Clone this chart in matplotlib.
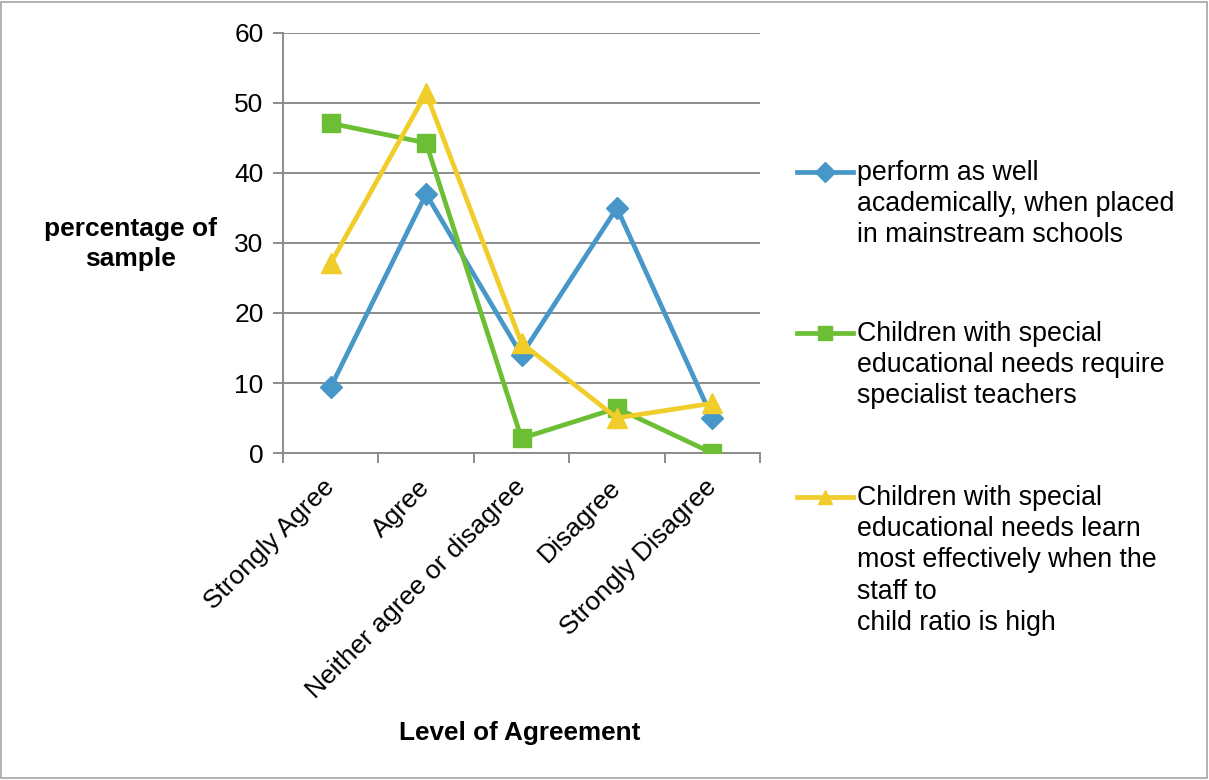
import numpy as np
import matplotlib
matplotlib.use("Agg")
import matplotlib.pyplot as plt
from matplotlib.lines import Line2D
from matplotlib.patches import Rectangle

plt.rcParams['font.family'] = ['Liberation Sans', 'DejaVu Sans']

# ---- data ----
categories = ["Strongly Agree", "Agree", "Neither agree or disagree",
              "Disagree", "Strongly Disagree"]
perform_well = [9.4, 37.0, 14.0, 35.0, 5.0]
need_specialist = [47.1, 44.3, 2.1, 6.4, 0.0]
staff_ratio = [27.1, 51.4, 15.7, 5.0, 7.1]

labels = ["perform as well\nacademically, when placed\nin mainstream schools",
          "Children with special\neducational needs require\nspecialist teachers",
          "Children with special\neducational needs learn\nmost effectively when the\nstaff to\nchild ratio is high"]
colors = ["#4797C9", "#6CBE34", "#F0CD2B"]
markers = ["D", "s", "^"]
msizes = [11, 13, 14]
series = [perform_well, need_specialist, staff_ratio]

fig = plt.figure(figsize=(12.09, 7.8), dpi=100)
ax = fig.add_axes([283/1209, 1-453/780, (760-283)/1209, (453-33)/780])

x = np.arange(len(categories))
for vals, c, m, ms in zip(series, colors, markers, msizes):
    ax.plot(x, vals, color=c, lw=3.4, marker=m, ms=ms, mec=c, mfc=c, zorder=3)

ax.set_xlim(-0.5, len(categories) - 0.5)
ax.set_ylim(0, 60)
ax.set_yticks(np.arange(0, 61, 10))
ax.yaxis.grid(True, color="#8C8C8C", lw=1.4)
ax.set_axisbelow(True)

ax.set_xticks(np.arange(-0.5, len(categories), 1.0))
ax.set_xticklabels([])
ax.set_xticks(x, minor=True)
ax.set_xticklabels(categories, minor=True, rotation=45, ha='right', va='center',
                   rotation_mode='anchor', fontsize=19)
ax.tick_params(axis='x', which='minor', length=0, pad=22)
ax.tick_params(axis='x', which='major', length=7, width=1.4, color="#8C8C8C")
ax.tick_params(axis='y', length=7, width=1.4, color="#8C8C8C", labelsize=19, pad=7)

for s in ['top', 'right']:
    ax.spines[s].set_visible(False)
for s in ['left', 'bottom']:
    ax.spines[s].set_color("#8C8C8C")
    ax.spines[s].set_linewidth(1.4)

fig.text(130/1209, 1-244/780, "percentage of\nsample", fontsize=19,
         fontweight='bold', ha='center', va='center', linespacing=1.35)
fig.text(520/1209, 1-733/780, "Level of Agreement", fontsize=18.8,
         fontweight='bold', ha='center', va='center')

# legend drawn by hand so the key lines up with the first text line
key_y = [172, 333, 497]
for lab, c, m, ky in zip(labels, colors, markers, key_y):
    yy = 1 - ky/780
    fig.add_artist(Line2D([797/1209, 825/1209, 853/1209], [yy, yy, yy],
                          transform=fig.transFigure, color=c, lw=3.4,
                          marker=m, ms=10, mfc=c, mec=c, markevery=[1]))
    fig.text(857/1209, 1 - (ky - 12)/780, lab, fontsize=19.3, ha='left', va='top',
             linespacing=1.26, transform=fig.transFigure)

fig.add_artist(Rectangle((0.001, 0.002), 0.997, 0.996, transform=fig.transFigure,
                         fill=False, ec="#A6A6A6", lw=1.2))

fig.savefig("out.png", dpi=100)
